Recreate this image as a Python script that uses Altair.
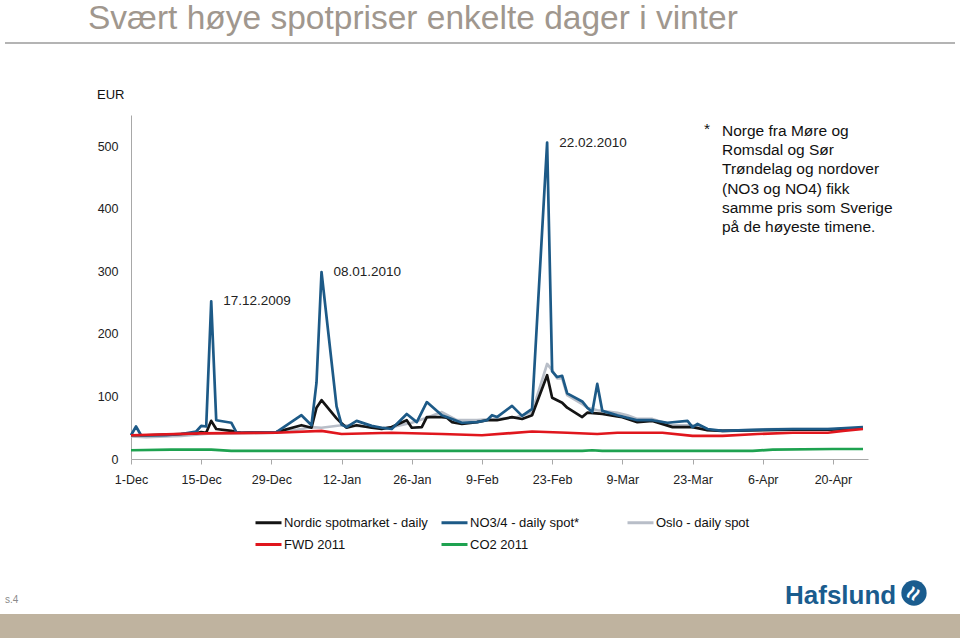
import altair as alt
import pandas as pd

# ---------------- text ----------------
TITLE = "Svært høye spotpriser enkelte dager i vinter"
UNIT = "EUR"
NOTE_LINES = ["Norge fra Møre og", "Romsdal og Sør", "Trøndelag og nordover",
              "(NO3 og NO4) fikk", "samme pris som Sverige", "på de høyeste timene."]
PAGE = "s.4"
LOGO = "Hafslund"

series_names = ["Nordic spotmarket - daily", "NO3/4 - daily spot*", "Oslo - daily spot",
                "FWD 2011", "CO2 2011"]
series_colors = ["#141414", "#1d5a87", "#b8bec8", "#e0161d", "#1ea250"]
draw_order = ["Oslo - daily spot", "Nordic spotmarket - daily", "NO3/4 - daily spot*",
              "FWD 2011", "CO2 2011"]

# ---------------- data (EUR/MWh) ----------------
nordic_dates = ["2009-12-01", "2009-12-04", "2009-12-08", "2009-12-11", "2009-12-14", "2009-12-15",
                "2009-12-16", "2009-12-17", "2009-12-18", "2009-12-21", "2009-12-22", "2009-12-23",
                "2009-12-30", "2010-01-04", "2010-01-05", "2010-01-06", "2010-01-07", "2010-01-08",
                "2010-01-11", "2010-01-12", "2010-01-13", "2010-01-14", "2010-01-15", "2010-01-18",
                "2010-01-20", "2010-01-22", "2010-01-25", "2010-01-26", "2010-01-28", "2010-01-29",
                "2010-02-01", "2010-02-02", "2010-02-03", "2010-02-05", "2010-02-08", "2010-02-10",
                "2010-02-12", "2010-02-15", "2010-02-17", "2010-02-19", "2010-02-22", "2010-02-23",
                "2010-02-24", "2010-02-25", "2010-02-26", "2010-03-01", "2010-03-02", "2010-03-05",
                "2010-03-08", "2010-03-09", "2010-03-12", "2010-03-15", "2010-03-19", "2010-03-23",
                "2010-03-26", "2010-03-29", "2010-04-06", "2010-04-12", "2010-04-19", "2010-04-26"]
nordic_values = [38, 38, 39, 40, 41, 43,
                 42, 61, 48, 45, 43, 42,
                 43, 54, 52, 50, 82, 94,
                 65, 57, 50, 52, 54, 50,
                 48, 51, 62, 50, 51, 67,
                 67, 66, 59, 56, 59, 62,
                 62, 67, 64, 70, 134, 98,
                 94, 90, 82, 67, 74, 72,
                 68, 67, 59, 61, 51, 51,
                 46, 45, 46, 47, 47, 49]

no34_dates = ["2009-12-01", "2009-12-02", "2009-12-03", "2009-12-04", "2009-12-08", "2009-12-11",
              "2009-12-14", "2009-12-15", "2009-12-16", "2009-12-17", "2009-12-18", "2009-12-21",
              "2009-12-22", "2009-12-23", "2009-12-30", "2010-01-04", "2010-01-05", "2010-01-06",
              "2010-01-07", "2010-01-08", "2010-01-11", "2010-01-12", "2010-01-13", "2010-01-15",
              "2010-01-18", "2010-01-20", "2010-01-22", "2010-01-25", "2010-01-27", "2010-01-29",
              "2010-02-01", "2010-02-03", "2010-02-05", "2010-02-08", "2010-02-10", "2010-02-11",
              "2010-02-12", "2010-02-15", "2010-02-17", "2010-02-19", "2010-02-22", "2010-02-23",
              "2010-02-24", "2010-02-25", "2010-02-26", "2010-03-01", "2010-03-02", "2010-03-03",
              "2010-03-04", "2010-03-05", "2010-03-08", "2010-03-12", "2010-03-15", "2010-03-18",
              "2010-03-22", "2010-03-23", "2010-03-24", "2010-03-26", "2010-03-29", "2010-04-06",
              "2010-04-12", "2010-04-19", "2010-04-26"]
no34_values = [38, 52, 38, 38, 38, 40,
               44, 53, 52, 252, 62, 58,
               43, 42, 43, 70, 62, 54,
               122, 299, 84, 55, 51, 61,
               53, 50, 48, 72, 59, 91,
               70, 64, 58, 59, 62, 70,
               67, 85, 69, 80, 506, 140,
               131, 133, 105, 92, 82, 75,
               120, 77, 70, 62, 62, 58,
               61, 51, 56, 48, 45, 47,
               48, 48, 51]

oslo_dates = ["2009-12-01", "2009-12-04", "2009-12-08", "2009-12-11", "2009-12-14", "2009-12-17",
              "2009-12-21", "2009-12-30", "2010-01-04", "2010-01-06", "2010-01-08", "2010-01-12",
              "2010-01-15", "2010-01-20", "2010-01-22", "2010-01-26", "2010-01-29", "2010-02-01",
              "2010-02-04", "2010-02-08", "2010-02-12", "2010-02-16", "2010-02-19", "2010-02-22",
              "2010-02-23", "2010-02-24", "2010-02-25", "2010-02-26", "2010-03-01", "2010-03-02",
              "2010-03-04", "2010-03-08", "2010-03-10", "2010-03-12", "2010-03-15", "2010-03-19",
              "2010-03-23", "2010-03-26", "2010-04-01", "2010-04-09", "2010-04-16", "2010-04-23",
              "2010-04-26"]
oslo_values = [36, 35, 36, 37, 39, 41,
               41, 42, 48, 51, 50, 54,
               53, 50, 51, 58, 66, 75,
               62, 62, 64, 67, 75, 152,
               142, 129, 129, 102, 88, 82,
               78, 74, 70, 64, 64, 54,
               54, 46, 46, 48, 48, 48,
               50]

fwd_dates = ["2009-12-01", "2009-12-15", "2009-12-30", "2010-01-08", "2010-01-12", "2010-01-22",
             "2010-02-01", "2010-02-09", "2010-02-19", "2010-02-26", "2010-03-04", "2010-03-08",
             "2010-03-17", "2010-03-23", "2010-03-29", "2010-04-05", "2010-04-12", "2010-04-19",
             "2010-04-22", "2010-04-26"]
fwd_values = [38, 41, 42, 45, 40, 42,
              40, 38, 44, 42, 40, 42,
              42, 37, 37, 40, 42, 42,
              45, 48]

co2_dates = ["2009-12-01", "2009-12-09", "2009-12-17", "2009-12-21", "2010-01-08", "2010-02-01",
             "2010-03-01", "2010-03-03", "2010-03-05", "2010-04-04", "2010-04-08", "2010-04-20",
             "2010-04-26"]
co2_values = [14, 15, 15, 13, 13, 13,
              13, 14, 13, 13, 15, 16,
              16]

x_tick_dates = ["2009-12-01", "2009-12-15", "2009-12-29", "2010-01-12", "2010-01-26", "2010-02-09",
                "2010-02-23", "2010-03-09", "2010-03-23", "2010-04-06", "2010-04-20"]
x_domain = ["2009-12-01", "2010-04-27"]
y_ticks = [0, 100, 200, 300, 400, 500]
y_max = 550

ann_text = ["17.12.2009", "08.01.2010", "22.02.2010"]
ann_dates = ["2009-12-17", "2010-01-08", "2010-02-22"]
ann_values = [252, 299, 506]

# ---------------- build tables ----------------
frames = []
for name, d, v in [(series_names[0], nordic_dates, nordic_values),
                   (series_names[1], no34_dates, no34_values),
                   (series_names[2], oslo_dates, oslo_values),
                   (series_names[3], fwd_dates, fwd_values),
                   (series_names[4], co2_dates, co2_values)]:
    frames.append(pd.DataFrame({"date": d, "value": v, "series": name}))
df = pd.concat(frames, ignore_index=True)


def dt(s):
    t = pd.Timestamp(s)
    return alt.DateTime(year=t.year, month=t.month, date=t.day, utc=True)


FONT = "Liberation Sans"
W, H = 737, 344
PAD = {"left": 131, "top": 115, "right": 960 - 131 - W, "bottom": 640 - 115 - H}

x_enc = alt.X("date:T",
              scale=alt.Scale(type="utc", domain=[dt(s) for s in x_domain]),
              axis=alt.Axis(values=[dt(s) for s in x_tick_dates], format="%-d-%b", title=None,
                            grid=False, domainColor="#a8a8a8", tickColor="#a8a8a8", tickSize=5,
                            labelPadding=9, labelFontSize=12.5, labelColor="#222222",
                            labelFont=FONT, labelFlush=False, labelOverlap=False))
y_enc = alt.Y("value:Q",
              scale=alt.Scale(domain=[0, y_max], nice=False, zero=True),
              axis=alt.Axis(values=y_ticks, title=None, grid=False, ticks=False, tickSize=0,
                            domainColor="#a8a8a8", labelPadding=13, labelFontSize=12.5,
                            labelColor="#222222", labelFont=FONT))
color_enc = alt.Color("series:N",
                      scale=alt.Scale(domain=series_names, range=series_colors),
                      legend=alt.Legend(orient="none", legendX=123, legendY=393, columns=3,
                                        direction="horizontal", title=None,
                                        symbolType="stroke", symbolSize=676,
                                        symbolStrokeWidth=3, labelFontSize=13,
                                        labelFont=FONT, labelColor="#111111", labelOffset=1,
                                        gridAlign="all", columnPadding=7, rowPadding=0,
                                        padding=0, labelLimit=400))

base = alt.Chart(df).mark_line(strokeWidth=2.7, strokeJoin="round").encode(
    x=x_enc, y=y_enc, color=color_enc)
lines = [base.transform_filter(alt.datum.series == s) for s in draw_order]

ann_df = pd.DataFrame({"date": ann_dates, "value": ann_values, "label": ann_text})
ann = alt.Chart(ann_df).mark_text(align="left", baseline="middle", dx=12, fontSize=13.5,
                                  font=FONT, color="#222222").encode(
    x="date:T", y="value:Q", text="label:N")


def txt(text, x, y, **kw):
    return alt.Chart(pd.DataFrame({"t": [text]})).mark_text(font=FONT, **kw).encode(
        x=alt.value(x), y=alt.value(y), text="t:N")


title = txt(TITLE, -43, -86, align="left", baseline="alphabetic", fontSize=33.5, color="#a0978e")
sep = alt.Chart(pd.DataFrame({"a": [0]})).mark_rule(color="#b4b4b4", strokeWidth=2).encode(
    x=alt.value(-126), x2=alt.value(824), y=alt.value(-72))
unit = txt(UNIT, -34, -20, align="left", baseline="middle", fontSize=13, color="#111111")
star = txt("*", 573, 14, align="left", baseline="middle", fontSize=15.5, color="#111111")
note = alt.Chart(pd.DataFrame({"t": ["\n".join(NOTE_LINES)]})).mark_text(
    font=FONT, align="left", baseline="top", fontSize=15.5, lineHeight=19.2, lineBreak="\n",
    color="#111111").encode(x=alt.value(591), y=alt.value(9), text="t:N")

band = alt.Chart(pd.DataFrame({"a": [0]})).mark_rect(color="#bfb39f").encode(
    x=alt.value(-131), x2=alt.value(829), y=alt.value(499), y2=alt.value(523))
page = txt(PAGE, -126, 485, align="left", baseline="middle", fontSize=10, color="#8a8a8a")
logo = txt(LOGO, 654, 489, align="left", baseline="alphabetic", fontSize=26,
           fontWeight="bold", color="#1a5c8e")
emblem = alt.Chart(pd.DataFrame({"a": [0]})).mark_point(
    filled=True, shape="circle", size=640, color="#1a5c8e", opacity=1).encode(
    x=alt.value(783), y=alt.value(478))
emblem_s = txt("≈", 783, 479, align="center", baseline="middle", fontSize=24,
               fontWeight="bold", color="white", angle=300)

chart = alt.layer(
    sep, title, unit, *lines, ann, star, note, band, page, logo, emblem, emblem_s
).properties(
    width=W, height=H, padding=PAD, autosize=alt.AutoSizeParams(type="none"),
    background="white"
).configure_view(stroke=None)

chart.save("out.html", embed_options={"renderer": "svg", "actions": False})
